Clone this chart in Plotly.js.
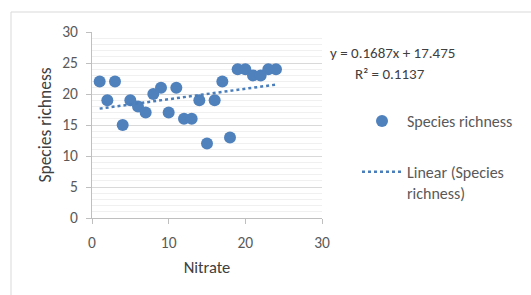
<!DOCTYPE html>
<html>
<head>
<meta charset="utf-8">
<script src="https://cdn.plot.ly/plotly-3.0.1.min.js"></script>
<style>html,body{margin:0;padding:0;background:#fff;}#chart{width:531px;height:295px;}</style>
</head>
<body>
<div id="chart"></div>
<script>
// Data
const nitrate = [1,2,3,4,5,6,7,8,9,10,11,12,13,14,15,16,17,18,19,20,21,22,23,24];
const speciesRichness = [22,19,22,15,19,18,17,20,21,17,21,16,16,19,12,19,22,13,24,24,23,23,24,24];
const trendX = [1, 24];
const trendY = [17.64, 21.52];
const xTicks = [0,10,20,30];
const yTicks = [0,5,10,15,20,25,30];
const equationText = 'y = 0.1687x + 17.475';
const r2Text = 'R² = 0.1137';

const L = 92, R = 209, T = 32, B = 77;
const W = 531 - L - R, H = 295 - T - B;
const px2x = p => (p - L) / W;
const py2y = p => (295 - B - p) / H;

const font = 'Carlito, Lato, "Liberation Sans", sans-serif';
const txt = '#595959';

const traces = [
  {
    x: nitrate, y: speciesRichness, type: 'scatter', mode: 'markers',
    name: 'Species richness', legendgroup: 'a',
    marker: {color: '#4f81bd', size: 12}
  },
  {
    x: trendX, y: trendY, type: 'scatter', mode: 'lines',
    name: 'Linear (Species<br>richness)', legendgroup: 'b',
    line: {color: '#4a7ebb', width: 2.5, dash: 'dot'}
  }
];

const layout = {
  width: 531, height: 295,
  margin: {l: L, r: R, t: T, b: B, pad: 0},
  paper_bgcolor: '#fff', plot_bgcolor: '#fff',
  font: {family: font, size: 15, color: txt},
  showlegend: true,
  legend: {
    x: px2x(357), y: py2y(104), xanchor: 'left', yanchor: 'top',
    font: {family: font, size: 16, color: txt},
    traceorder: 'grouped', tracegroupgap: 27, itemwidth: 40, valign: 'top',
    bgcolor: 'rgba(0,0,0,0)'
  },
  xaxis: {
    range: [0, 30], tickvals: xTicks, ticks: 'outside', ticklen: 5, tickcolor: '#bfbfbf',
    ticklabelstandoff: 5,
    showline: true, linecolor: '#bfbfbf', linewidth: 1, showgrid: false, zeroline: false,
    tickfont: {family: font, size: 15.5, color: txt},
    title: {text: 'Nitrate', font: {family: font, size: 16.5, color: '#404040'}, standoff: 10}
  },
  yaxis: {
    range: [0, 30], tickvals: yTicks, ticks: 'outside', ticklen: 5, tickcolor: '#bfbfbf',
    ticklabelstandoff: 5,
    showline: true, linecolor: '#bfbfbf', linewidth: 1, showgrid: true, gridcolor: '#d9d9d9', zeroline: false,
    minor: {dtick: 1, showgrid: true, gridcolor: '#f0f0f0', ticks: ''},
    tickfont: {family: font, size: 15.5, color: txt},
    title: {text: 'Species richness', font: {family: font, size: 17.5, color: '#404040'}, standoff: 6}
  },
  annotations: [
    {xref: 'paper', yref: 'paper', x: px2x(392), y: py2y(53), text: equationText, showarrow: false,
     xanchor: 'center', yanchor: 'middle', font: {family: font, size: 15, color: '#404040'}},
    {xref: 'paper', yref: 'paper', x: px2x(390), y: py2y(74), text: r2Text, showarrow: false,
     xanchor: 'center', yanchor: 'middle', font: {family: font, size: 15, color: '#404040'}}
  ],
  shapes: [
    {type: 'rect', xref: 'paper', yref: 'paper', x0: px2x(11), x1: px2x(540), y0: py2y(300), y1: py2y(12),
     line: {color: '#d9d9d9', width: 1}, fillcolor: 'rgba(0,0,0,0)', layer: 'below'}
  ]
};

Plotly.newPlot('chart', traces, layout, {displayModeBar: false, staticPlot: true});
</script>
</body>
</html>
